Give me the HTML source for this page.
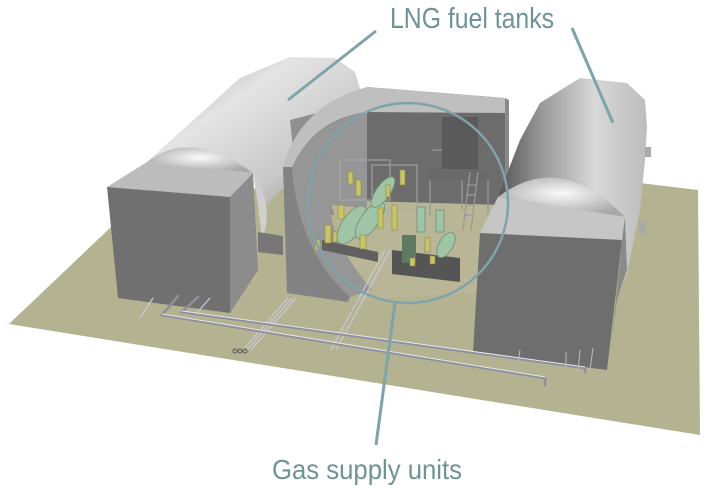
<!DOCTYPE html>
<html><head><meta charset="utf-8"><style>
html,body{margin:0;padding:0;background:#fff;}
svg{display:block;}
text{font-family:"Liberation Sans Narrow","Liberation Sans",sans-serif;fill:#6e9397;}
</style></head><body>
<svg width="705" height="493" viewBox="0 0 705 493" xmlns="http://www.w3.org/2000/svg">
<defs>
<linearGradient id="tankL" x1="0" y1="0" x2="1" y2="1">
<stop offset="0" stop-color="#9a9a9a"/><stop offset="0.35" stop-color="#e4e4e4"/><stop offset="0.7" stop-color="#c8c8c8"/><stop offset="1" stop-color="#8a8a8a"/>
</linearGradient>
<linearGradient id="tankR" x1="0" y1="0" x2="1" y2="0">
<stop offset="0" stop-color="#555"/><stop offset="0.3" stop-color="#9a9a9a"/><stop offset="0.65" stop-color="#d8d8d8"/><stop offset="1" stop-color="#bcbcbc"/>
</linearGradient>
<radialGradient id="dome" cx="0.5" cy="0.4" r="0.6">
<stop offset="0" stop-color="#fafafa"/><stop offset="1" stop-color="#a8a8a8"/>
</radialGradient>
</defs>

<polygon points="9,324 150,190 640,183 698,190 700,435" fill="#b3b291"/>

<!-- left tank -->
<polygon points="147,162 240,78 290,57 335,58 355,72 362,95 330,135 267,205 253,173 150,162" fill="url(#tankL)"/>
<path d="M147,162 Q190,128 253,173 Z" fill="url(#dome)"/>
<path d="M253,173 Q275,205 262,240 L258,205 Z" fill="#cfcfcf"/>
<polygon points="258,232 283,236 283,255 258,252" fill="#777"/>

<!-- left box -->
<polygon points="107,187 147,162 253,173 230,197" fill="#bcbcbc"/>
<polygon points="107,187 230,197 230,313 118,298" fill="#707070"/>
<polygon points="230,197 253,173 258,270 230,313" fill="#8c8c8c"/>

<!-- middle -->
<polygon points="367,87 505,98 505,208 367,208" fill="#6c6c6c"/>
<polygon points="290,120 367,100 367,215 300,215" fill="#8f8f8f"/>
<path d="M367,87 L505,98 L505,113 L367,112 Q315,118 292,167 L283,167 Q300,105 367,87 Z" fill="#bfbfbf"/>
<polygon points="330,200 505,205 520,290 360,300" fill="#b8b696"/>
<path d="M367,112 Q316,120 292,167 Q298,250 350,297 L372,290 Q330,240 330,205 L367,208 Z" fill="#969696"/>
<path d="M283,167 L292,167 Q298,250 350,297 L348,302 L287,293 Z" fill="#828282"/>
<polygon points="505,98 509,100 509,210 505,208" fill="#8a8a8a"/>

<!-- tower -->
<rect x="442" y="117" width="36" height="52" fill="#5a5a5a"/>
<polygon points="430,170 485,170 490,180 428,180" fill="#6a6a6a"/>
<g stroke="#999" stroke-width="1.2" fill="none">
<line x1="430" y1="180" x2="430" y2="215"/><line x1="488" y1="180" x2="488" y2="215"/>
<line x1="462" y1="180" x2="462" y2="210"/>
<line x1="470" y1="172" x2="463" y2="230"/><line x1="478" y1="172" x2="471" y2="230"/>
<line x1="467" y1="185" x2="476" y2="185"/><line x1="466" y1="195" x2="475" y2="195"/><line x1="465" y1="205" x2="474" y2="205"/><line x1="464" y1="215" x2="473" y2="215"/>
<line x1="432" y1="150" x2="442" y2="150"/>
</g>

<!-- equipment -->
<polygon points="322,240 378,252 378,262 322,250" fill="#606060"/>
<polygon points="392,250 460,258 460,282 392,274" fill="#555"/>
<g stroke="#aaa" stroke-width="1" fill="none">
<rect x="340" y="160" width="50" height="40"/><rect x="372" y="165" width="45" height="45"/>
</g>
<g fill="#9fc4a6" stroke="#6f8f74" stroke-width="0.8">
<ellipse cx="352" cy="225" rx="10" ry="22" transform="rotate(35 352 225)"/>
<ellipse cx="370" cy="220" rx="9" ry="22" transform="rotate(35 370 220)"/>
<ellipse cx="383" cy="192" rx="7" ry="18" transform="rotate(35 383 192)"/>
<ellipse cx="446" cy="245" rx="7" ry="14" transform="rotate(30 446 245)"/>
<rect x="417" y="207" width="8" height="25"/>
<rect x="436" y="210" width="8" height="22"/>
</g>
<rect x="402" y="235" width="14" height="28" fill="#5f7a62"/>
<g fill="#c9c36a" stroke="#8e8a40" stroke-width="0.6">
<rect x="325" y="225" width="6" height="18"/><rect x="338" y="205" width="6" height="14"/>
<rect x="356" y="180" width="5" height="16"/><rect x="378" y="208" width="5" height="20"/>
<rect x="392" y="205" width="5" height="25"/><rect x="360" y="235" width="6" height="14"/>
<rect x="348" y="172" width="5" height="12"/><rect x="400" y="170" width="5" height="15"/>
<rect x="425" y="238" width="5" height="14"/><rect x="315" y="240" width="5" height="10"/>
<rect x="333" y="232" width="4" height="10"/><rect x="386" y="185" width="4" height="12"/>
<rect x="410" y="258" width="5" height="8"/><rect x="430" y="256" width="5" height="8"/>
</g>

<!-- right tank -->
<polygon points="498,197 520,140 540,103 580,78 627,83 645,100 647,127 645,160 640,210 627,273 617,300 622,217" fill="url(#tankR)"/>
<path d="M498,197 Q560,150 625,217 Z" fill="url(#dome)"/>
<rect x="645" y="147" width="6" height="10" fill="#aaa"/><rect x="639" y="222" width="7" height="12" fill="#aaa"/>

<!-- right box -->
<polygon points="480,233 498,197 625,217 622,240" fill="#c6c6c6"/>
<polygon points="480,233 622,240 607,370 473,353" fill="#6e6e6e"/>
<polygon points="622,240 625,217 627,270 617,300 612,340" fill="#8a8a8a"/>

<!-- pipes -->
<g stroke="#c9c9d6" stroke-width="1.3" fill="none">
<line x1="288" y1="298" x2="243" y2="350"/><line x1="292" y1="298" x2="247" y2="350"/><line x1="296" y1="298" x2="251" y2="350"/>
<line x1="385" y1="250" x2="331" y2="350"/><line x1="390" y1="250" x2="336" y2="350"/>
<line x1="153" y1="298" x2="140" y2="318"/><line x1="210" y1="298" x2="195" y2="315"/>
</g>
<g stroke="#8e8e9c" stroke-width="2.6" fill="none" stroke-linecap="round">
<polyline points="178,296 162,315 545,378 545,385"/>
<polyline points="198,297 182,312 585,368 585,372"/>
</g>
<g stroke="#e6e6ee" stroke-width="1" fill="none">
<polyline points="162,314 545,377"/>
<polyline points="182,311 585,367"/>
</g>
<g stroke="#bbb" stroke-width="1" fill="none">
<line x1="566" y1="352" x2="566" y2="372"/><line x1="580" y1="350" x2="578" y2="372"/><line x1="593" y1="348" x2="590" y2="370"/>
<line x1="520" y1="350" x2="518" y2="365"/>
</g>
<g fill="none" stroke="#555" stroke-width="1">
<circle cx="235" cy="351" r="2"/><circle cx="240" cy="351" r="2"/><circle cx="245" cy="351" r="2"/>
</g>

<g stroke="#7ea3a9" fill="none">
<ellipse cx="408" cy="203" rx="100" ry="100" stroke-width="2.5"/>
<line x1="376" y1="31" x2="288" y2="100" stroke-width="3"/>
<line x1="572" y1="28" x2="613" y2="123" stroke-width="3"/>
<line x1="395" y1="303" x2="376" y2="445" stroke-width="3"/>
</g>
<text x="390" y="28" font-size="29" textLength="164" lengthAdjust="spacingAndGlyphs">LNG fuel tanks</text>
<text x="272" y="479" font-size="28" textLength="190" lengthAdjust="spacingAndGlyphs">Gas supply units</text>
</svg>
</body></html>
